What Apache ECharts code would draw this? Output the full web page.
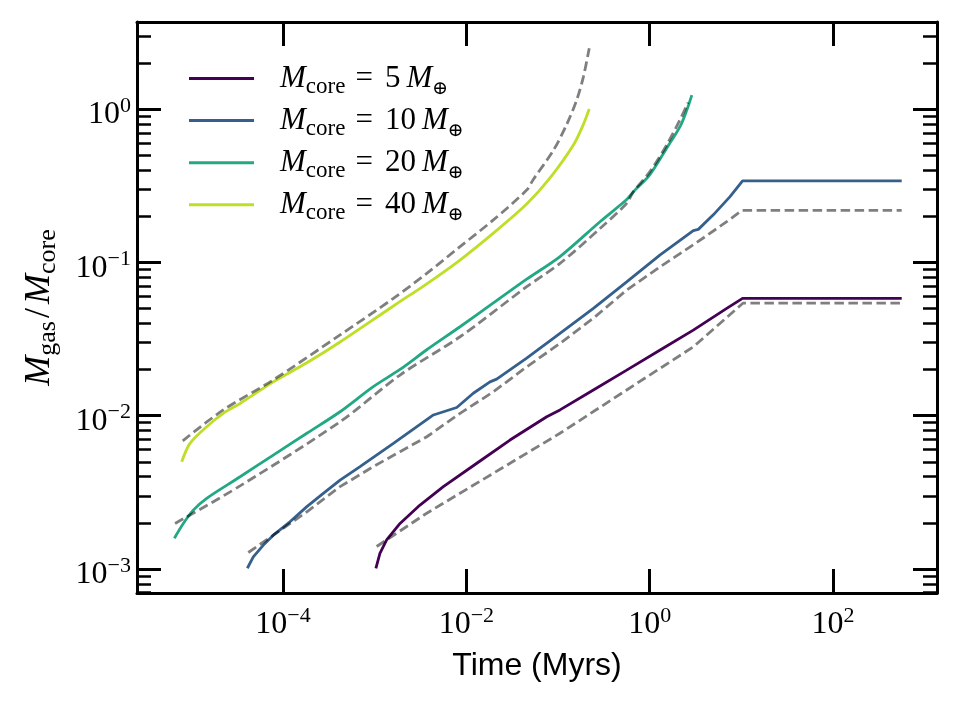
<!DOCTYPE html>
<html>
<head>
<meta charset="utf-8">
<script src="https://cdn.jsdelivr.net/npm/echarts@6/dist/echarts.min.js"></script>
<style>
  html, body { margin: 0; padding: 0; background: #fff; }
  #chart { width: 960px; height: 710px; }
</style>
</head>
<body>
<div id="chart"></div>
<script>
// time in Myr and M_gas/M_core (log-log plot)
const coreMasses = [5, 10, 20, 40];
const colors = ['#440154', '#355f8d', '#22a884', '#bddf26'];

const t5 = [1.03e-3, 1.14e-3, 1.35e-3, 1.89e-3, 3.12e-3, 5.61e-3, 1.30e-2, 2.99e-2, 7.53e-2, 0.105, 0.243, 0.561, 1.30, 2.99, 6.92, 10.3, 561];
const m5 = [1.01e-3, 1.265e-3, 1.545e-3, 1.98e-3, 2.61e-3, 3.44e-3, 4.89e-3, 6.93e-3, 9.84e-3, 1.09e-2, 1.47e-2, 1.98e-2, 2.68e-2, 3.61e-2, 5.01e-2, 5.82e-2, 5.82e-2];
const t5Dash = [1.05e-3, 3.70e-3, 1.97e-2, 0.105, 0.561, 2.99, 10.4, 561];
const m5Dash = [1.40e-3, 2.31e-3, 4.21e-3, 7.67e-3, 1.47e-2, 2.81e-2, 5.41e-2, 5.41e-2];

const t10 = [4.08e-5, 4.74e-5, 6.10e-5, 7.83e-5, 1.19e-4, 1.82e-4, 2.75e-4, 4.19e-4, 6.92e-4, 1.60e-3, 4.37e-3, 7.85e-3, 1.19e-2, 1.81e-2, 2.14e-2, 4.55e-2, 0.105, 0.243, 0.561, 1.30, 2.99, 3.39, 4.94, 7.52, 10.3, 561];
const m10 = [1.01e-3, 1.20e-3, 1.43e-3, 1.66e-3, 2.03e-3, 2.55e-3, 3.11e-3, 3.80e-3, 4.65e-3, 6.59e-3, 1.01e-2, 1.13e-2, 1.40e-2, 1.66e-2, 1.73e-2, 2.37e-2, 3.44e-2, 5.01e-2, 7.46e-2, 0.1117, 0.161, 0.164, 0.204, 0.268, 0.340, 0.340];
const t10Dash = [4.18e-5, 7.83e-5, 1.82e-4, 4.19e-4, 9.66e-4, 1.89e-3, 3.70e-3, 8.53e-3, 1.97e-2, 4.55e-2, 0.105, 0.243, 0.561, 1.30, 2.99, 6.92, 10.1, 561];
const m10Dash = [1.28e-3, 1.66e-3, 2.36e-3, 3.44e-3, 4.65e-3, 5.82e-3, 7.28e-3, 1.035e-2, 1.43e-2, 2.08e-2, 2.96e-2, 4.32e-2, 6.59e-2, 9.35e-2, 0.130, 0.184, 0.218, 0.218];

const t20 = [6.52e-6, 8.17e-6, 1.05e-5, 1.47e-5, 3.40e-5, 7.83e-5, 1.82e-4, 4.19e-4, 9.66e-4, 1.89e-3, 3.70e-3, 8.53e-3, 1.97e-2, 4.55e-2, 0.105, 0.287, 0.561, 0.662, 1.0, 1.53, 2.14, 2.54, 2.88];
const m20 = [1.585e-3, 1.98e-3, 2.42e-3, 2.89e-3, 3.99e-3, 5.53e-3, 7.67e-3, 1.06e-2, 1.545e-2, 2.0e-2, 2.69e-2, 3.80e-2, 5.43e-2, 7.76e-2, 0.109, 0.184, 0.257, 0.288, 0.372, 0.555, 0.767, 0.984, 1.233];
const t20Dash = [6.64e-6, 3.40e-5, 4.19e-4, 1.89e-3, 8.53e-3, 4.55e-2, 0.105, 0.287, 0.561, 0.662, 1.0, 1.53, 2.14, 2.62];
const m20Dash = [1.98e-3, 3.48e-3, 9.12e-3, 1.84e-2, 3.27e-2, 6.93e-2, 9.84e-2, 0.166, 0.243, 0.288, 0.389, 0.582, 0.851, 1.10];

const t40 = [7.85e-6, 9.66e-6, 1.47e-5, 2.23e-5, 3.40e-5, 7.83e-5, 1.82e-4, 4.19e-4, 1.60e-3, 3.70e-3, 8.53e-3, 1.97e-2, 4.55e-2, 8.18e-2, 0.147, 0.189, 0.219];
const m40 = [5.0e-3, 6.59e-3, 8.47e-3, 1.035e-2, 1.20e-2, 1.66e-2, 2.21e-2, 3.02e-2, 5.19e-2, 7.24e-2, 0.1035, 0.155, 0.240, 0.355, 0.582, 0.794, 1.0];
const t40Dash = [8.05e-6, 2.23e-5, 7.83e-5, 4.19e-4, 1.60e-3, 3.70e-3, 8.53e-3, 1.97e-2, 4.55e-2, 5.37e-2, 8.89e-2, 0.1245, 0.160, 0.189, 0.219];
const m40Dash = [6.85e-3, 1.09e-2, 1.71e-2, 3.36e-2, 5.82e-2, 8.47e-2, 0.1265, 0.189, 0.296, 0.347, 0.537, 0.794, 1.148, 1.622, 2.49];

// decades shown as tick labels
const xTickExp = [-4, -2, 0, 2];
const yTickExp = [-3, -2, -1, 0];
const xRange = [-5.593, 3.134];   // log10 limits
const yRange = [-3.157, 0.5675];

const serif = '"Liberation Serif", "DejaVu Serif", serif';

// log axes are drawn as value axes over log10 of the data
function pairs(t, m) {
    return t.map((v, i) => [Math.log10(v), Math.log10(m[i])]);
}

let yMinor = [];
for (let n = -4; n <= 0; n++) {
    for (let k = 2; k <= 9; k++) {
        const v = n + Math.log10(k);
        if (v >= yRange[0] && v <= yRange[1]) yMinor.push(v);
    }
}

function powLabel(v) {
    const e = Math.round(v);
    return '{b|10}{s|' + (e < 0 ? '\u2212' + (-e) : e) + '}';
}

const tickRich = {
    b: { fontFamily: serif, fontSize: 32, lineHeight: 40, color: '#000' },
    s: { fontFamily: serif, fontSize: 22, lineHeight: 19, verticalAlign: 'top', color: '#000' }
};

const frame = { show: true, onZero: false, lineStyle: { color: '#000', width: 3 } };
const majorTick = { show: true, inside: true, length: 24, lineStyle: { color: '#000', width: 3 } };
const minorTick = { show: true, inside: true, length: 14, lineStyle: { color: '#000', width: 2.5 } };

function xAxis(pos, extra) {
    return Object.assign({
        type: 'value', position: pos, min: xRange[0], max: xRange[1],
        splitLine: { show: false }, axisLine: frame,
        axisTick: Object.assign({ customValues: xTickExp }, majorTick),
        axisLabel: { show: false }
    }, extra);
}
function yAxis(pos, tick, line, extra) {
    return Object.assign({
        type: 'value', position: pos, min: yRange[0], max: yRange[1],
        splitLine: { show: false },
        axisLine: line ? frame : { show: false, onZero: false },
        axisTick: tick,
        axisLabel: { show: false }
    }, extra);
}

const names = coreMasses.map(m => 'M_core = ' + m + ' M_earth');
const solids = [[t5, m5], [t10, m10], [t20, m20], [t40, m40]];
const dashes = [[t5Dash, m5Dash], [t10Dash, m10Dash], [t20Dash, m20Dash], [t40Dash, m40Dash]];
const curved = [false, false, true, true];   // no plateau, so a smooth curve

let series = [];
solids.forEach(([t, m], i) => {
    series.push({
        name: names[i], type: 'line', data: pairs(t, m),
        symbol: 'none', showSymbol: false, z: 2,
        smooth: curved[i] ? 0.3 : false,
        lineStyle: { color: colors[i], width: 2.8 },
        itemStyle: { color: colors[i] }
    });
});
dashes.forEach(([t, m], i) => {
    series.push({
        type: 'line', data: pairs(t, m),
        symbol: 'none', showSymbol: false, z: 3,
        smooth: curved[i] ? 0.3 : false,
        lineStyle: { color: 'rgba(0,0,0,0.5)', width: 2.8, type: [9.5, 4.5] }
    });
});

const chart = echarts.init(document.getElementById('chart'));
chart.setOption({
    animation: false,
    backgroundColor: '#fff',
    grid: { left: 137, right: 23, top: 22, bottom: 117, containLabel: false, outerBoundsMode: 'none' },
    legend: {
        data: names, orient: 'vertical', left: 189, top: 63, padding: 0,
        icon: 'rect', itemWidth: 65, itemHeight: 3, itemGap: 6.6,
        formatter: name => {
            const m = name.match(/\d+/)[0];
            return '{m|M}{sub|core}{eq|=}{num|' + m + '}{m|M}{earth|\u2295}';
        },
        textStyle: {
            padding: [0, 0, 0, 21],
            rich: {
                m: { fontFamily: serif, fontStyle: 'italic', fontSize: 31, lineHeight: 40, color: '#000' },
                sub: { fontFamily: serif, fontSize: 23, lineHeight: 28, verticalAlign: 'bottom', color: '#000' },
                eq: { fontFamily: serif, fontSize: 31, lineHeight: 40, padding: [0, 12, 0, 10], color: '#000' },
                num: { fontFamily: serif, fontSize: 31, lineHeight: 40, padding: [0, 6, 0, 0], color: '#000' },
                earth: { fontFamily: '"DejaVu Serif", serif', fontSize: 19, lineHeight: 6, verticalAlign: 'bottom', color: '#000' }
            }
        }
    },
    xAxis: [
        xAxis('bottom', {
            axisLabel: { show: true, customValues: xTickExp, formatter: powLabel, margin: 12, rich: tickRich },
            name: 'Time (Myrs)', nameLocation: 'middle', nameGap: 55,
            nameTextStyle: { fontFamily: '"Liberation Sans", Arial, sans-serif', fontSize: 32, lineHeight: 36, color: '#000' }
        }),
        xAxis('top', {})
    ],
    yAxis: [
        yAxis('left', Object.assign({ customValues: yTickExp }, majorTick), true, {
            axisLabel: { show: true, customValues: yTickExp, formatter: powLabel, margin: 6, padding: [12, 0, 0, 0], rich: tickRich },
            name: '{m|M}{s|gas}{n|/}{m|M}{s|core}', nameLocation: 'middle', nameRotate: 90, nameGap: 76,
            nameTextStyle: {
                rich: {
                    m: { fontFamily: serif, fontStyle: 'italic', fontSize: 36, lineHeight: 42, color: '#000' },
                    s: { fontFamily: serif, fontSize: 26, lineHeight: 30, verticalAlign: 'bottom', color: '#000' },
                    n: { fontFamily: serif, fontSize: 36, lineHeight: 42, padding: [0, 4, 0, 3], color: '#000' }
                }
            }
        }),
        yAxis('right', Object.assign({ customValues: yTickExp }, majorTick), true, {}),
        yAxis('left', Object.assign({ customValues: yMinor }, minorTick), false, {}),
        yAxis('right', Object.assign({ customValues: yMinor }, minorTick), false, {})
    ],
    series: series
});
</script>
</body>
</html>
